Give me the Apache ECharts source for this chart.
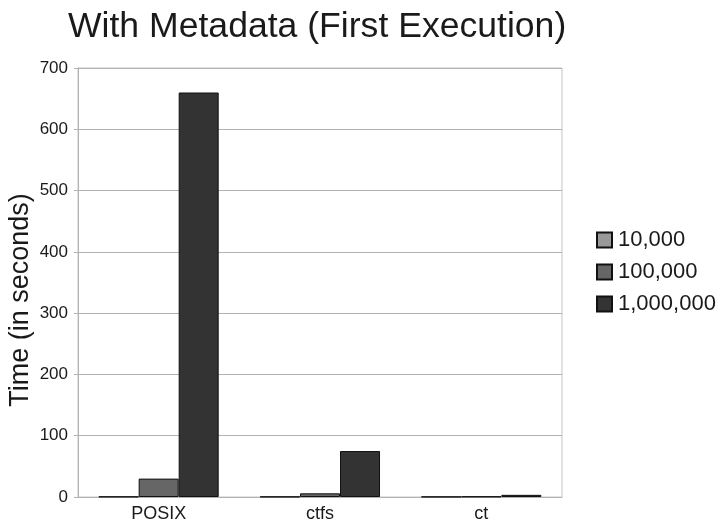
<!DOCTYPE html>
<html>
<head>
<meta charset="utf-8">
<script src="https://cdn.jsdelivr.net/npm/echarts@6/dist/echarts.min.js"></script>
<style>
  html, body { margin: 0; padding: 0; background: #ffffff; }
  #chart { width: 718px; height: 523px; }
</style>
</head>
<body>
<div id="chart"></div>
<script>
// Dataset sizes shown along the x axis
const categories = ['POSIX', 'ctfs', 'ct'];
// Elapsed time in seconds for each dataset size
const time10k = [0.6, 0.5, 0.4];
const time100k = [30, 6, 0.8];
const time1m = [660, 75, 3.5];
const seriesNames = ['10,000', '100,000', '1,000,000'];
const yTicks = { min: 0, max: 700, interval: 100 };

const FONT = '"Liberation Sans", Arial, sans-serif';
const colors = ['#999999', '#666666', '#333333'];
const values = [time10k, time100k, time1m];

const chart = echarts.init(document.getElementById('chart'), null, { renderer: 'canvas' });

chart.setOption({
  animation: false,
  backgroundColor: '#ffffff',
  title: {
    text: 'With Metadata (First Execution)',
    left: 68,
    top: 9,
    padding: 0,
    textStyle: { fontFamily: FONT, fontSize: 35.6, fontWeight: 'normal', color: '#1a1a1a' }
  },
  graphic: [{
    type: 'text',
    x: 7,
    y: 300,
    rotation: Math.PI / 2,
    style: {
      text: 'Time (in seconds)',
      font: '27px "Liberation Sans", Arial, sans-serif',
      fill: '#1a1a1a',
      textAlign: 'center',
      textVerticalAlign: 'top'
    }
  }],
  legend: {
    orient: 'vertical',
    left: 591,
    top: 224,
    itemWidth: 15,
    itemHeight: 15,
    itemGap: 10,
    icon: 'rect',
    textStyle: { fontFamily: FONT, fontSize: 22, color: '#1a1a1a', padding: [0, 0, 0, 1] },
    data: seriesNames
  },
  grid: {
    left: 78, right: 156, top: 68, bottom: 24,
    show: true, borderColor: '#c4c4c4', borderWidth: 1
  },
  xAxis: {
    type: 'category',
    data: categories,
    axisLine: { lineStyle: { color: '#b3b3b3', width: 1 } },
    axisTick: { alignWithLabel: true, length: 5, lineStyle: { color: '#b3b3b3' } },
    axisLabel: { fontFamily: FONT, fontSize: 18, color: '#1a1a1a', margin: 8 }
  },
  yAxis: {
    type: 'value',
    min: yTicks.min, max: yTicks.max, interval: yTicks.interval,
    axisLine: { show: true, lineStyle: { color: '#b3b3b3', width: 1 } },
    axisTick: { show: true, length: 4, lineStyle: { color: '#b3b3b3' } },
    splitLine: { lineStyle: { color: '#b3b3b3', width: 1 } },
    axisLabel: { fontFamily: FONT, fontSize: 17, color: '#1a1a1a', margin: 10 }
  },
  series: seriesNames.map((name, i) => ({
    name: name,
    type: 'bar',
    data: values[i],
    barGap: '0%',
    barCategoryGap: '25.6%',
    itemStyle: { color: colors[i], borderColor: '#111111', borderWidth: 1 }
  }))
});
</script>
</body>
</html>
